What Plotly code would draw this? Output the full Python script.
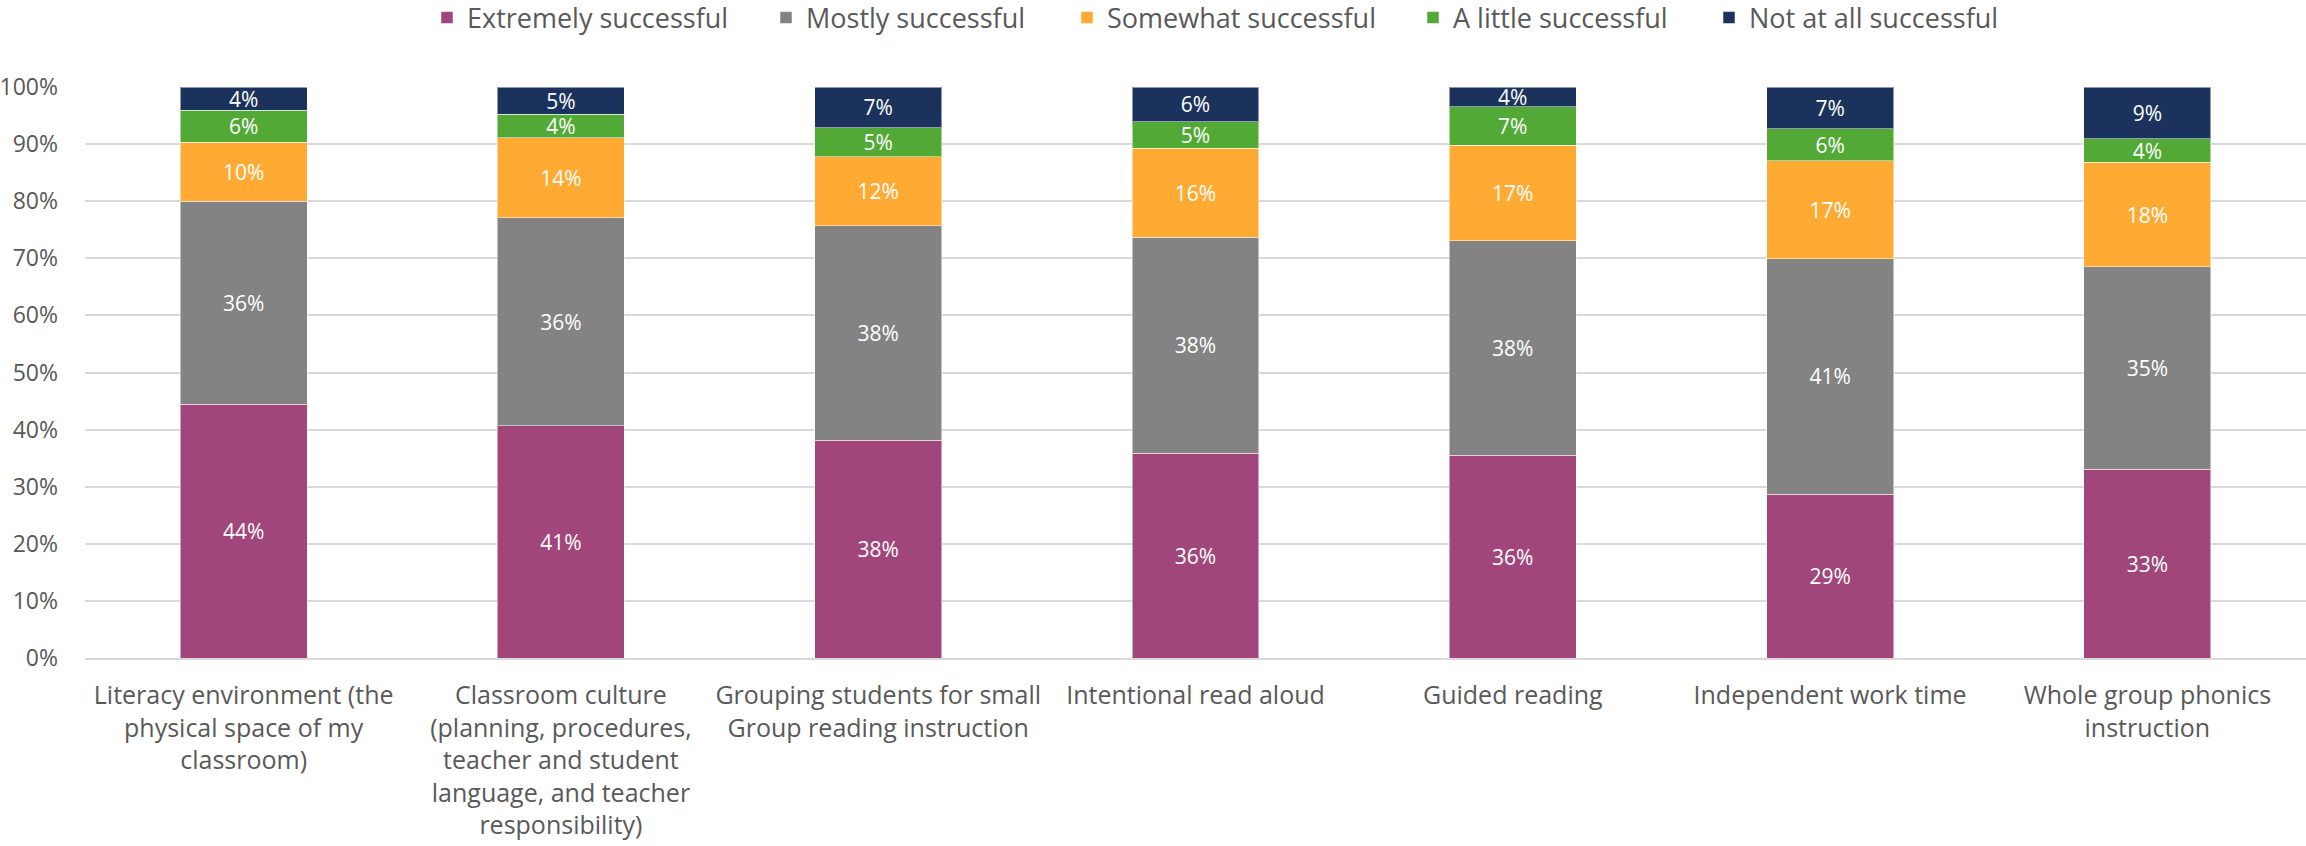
import plotly.graph_objects as go

categories = [
    "Literacy environment (the<br>physical space of my<br>classroom)",
    "Classroom culture<br>(planning, procedures,<br>teacher and student<br>language, and teacher<br>responsibility)",
    "Grouping students for small<br>Group reading instruction",
    "Intentional read aloud",
    "Guided reading",
    "Independent work time",
    "Whole group phonics<br>instruction",
]

# Share of responses (%) per rating level
extremely = [44.4, 40.7, 38.1, 35.9, 35.5, 28.7, 33.1]
mostly = [35.6, 36.4, 37.6, 37.8, 37.6, 41.2, 35.4]
somewhat = [10.3, 14.0, 12.1, 15.6, 16.7, 17.2, 18.3]
a_little = [5.6, 4.1, 5.1, 4.6, 6.7, 5.6, 4.1]
not_at_all = [4.1, 4.8, 7.1, 6.1, 3.5, 7.3, 9.1]

series = [
    ("Extremely successful", extremely, "#A0467A"),
    ("Mostly successful", mostly, "#838383"),
    ("Somewhat successful", somewhat, "#FFAA33"),
    ("A little successful", a_little, "#52A936"),
    ("Not at all successful", not_at_all, "#1B335C"),
]

y_ticks = [0, 10, 20, 30, 40, 50, 60, 70, 80, 90, 100]

# Left edge (px from the page's left) of each legend entry along the top
legend_left_px = [427, 766, 1067, 1413, 1709]

FONT = "Open Sans, Segoe UI, Arial, sans-serif"
WIDTH, HEIGHT = 2306, 846

fig = go.Figure()
legend_layouts = {}
for i, (name, vals, color) in enumerate(series):
    legend_id = "legend" if i == 0 else f"legend{i + 1}"
    fig.add_trace(go.Bar(
        name=name,
        x=categories,
        y=vals,
        legend=legend_id,
        showlegend=True,
        marker=dict(color=color, line=dict(color="rgba(255,255,255,0.5)", width=1)),
        texttemplate="%{y:.0f}%",
        textposition="inside",
        insidetextanchor="middle",
        textangle=0,
        constraintext="none",
        textfont=dict(color="white", size=21, family=FONT),
        hoverinfo="skip",
    ))
    legend_layouts[legend_id] = dict(
        orientation="h",
        xref="container",
        x=legend_left_px[i] / WIDTH,
        xanchor="left",
        yref="container",
        y=1 - 18 / HEIGHT,
        yanchor="middle",
        font=dict(size=27, color="#595959", family=FONT),
        itemwidth=30,
        bgcolor="rgba(0,0,0,0)",
    )

fig.update_layout(
    showlegend=True,
    barmode="stack",
    bargap=0.6,
    width=WIDTH,
    height=HEIGHT,
    margin=dict(l=83, r=0, t=87, b=188),
    plot_bgcolor="white",
    paper_bgcolor="white",
    font=dict(family=FONT, color="#595959"),
    xaxis=dict(
        showgrid=False,
        showline=True,
        linecolor="#D9D9D9",
        linewidth=2,
        ticks="",
        tickfont=dict(size=25, color="#595959", family=FONT),
        ticklabelstandoff=14,
    ),
    yaxis=dict(
        range=[0, 100],
        tickvals=y_ticks,
        ticktext=[f"{v}%" for v in y_ticks],
        showgrid=True,
        gridcolor="#D9D9D9",
        gridwidth=2,
        zeroline=False,
        showline=False,
        ticks="",
        tickfont=dict(size=23, color="#595959", family=FONT),
        ticklabelstandoff=26,
    ),
    **legend_layouts,
)

fig.write_html("out.html")
